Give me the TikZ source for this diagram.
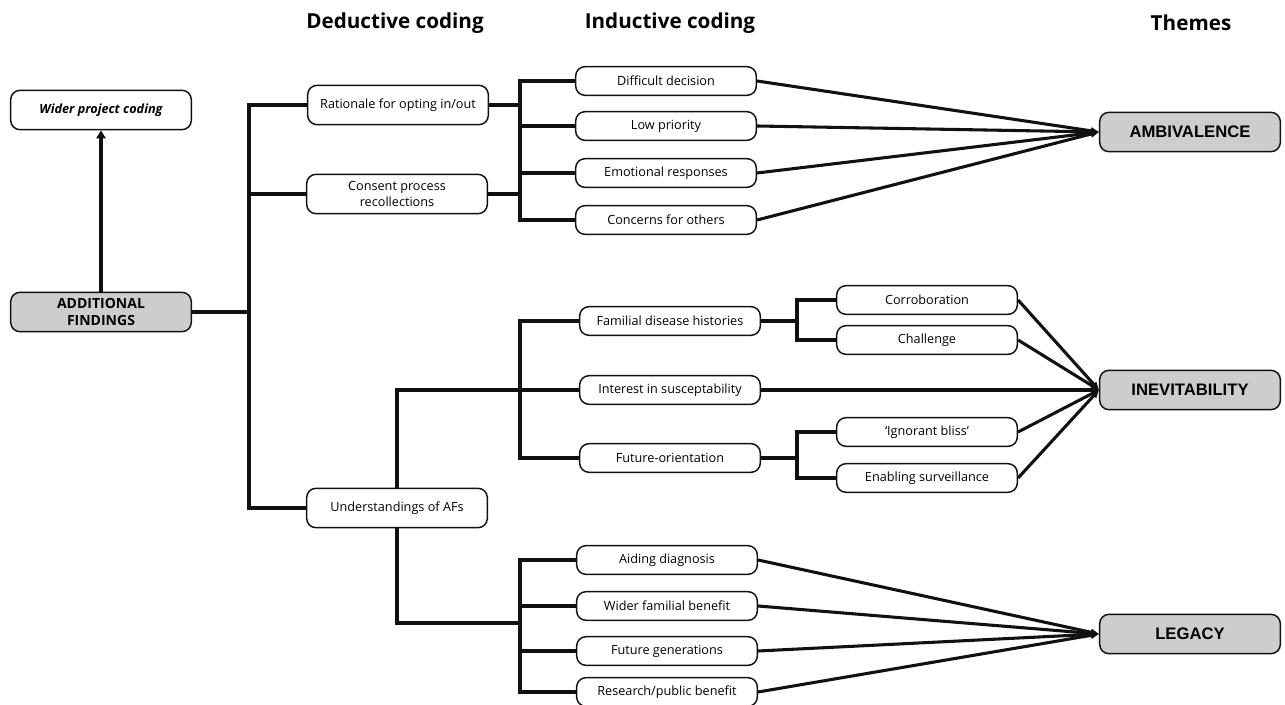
\documentclass[tikz,border=0pt]{standalone}
\usepackage{fontspec}
\setmainfont{Open Sans}
\newfontfamily\themefont{Liberation Sans}
\usepackage{tikz}
\usetikzlibrary{arrows.meta,positioning}
\definecolor{afgrey}{HTML}{CDCDCD}
\definecolor{afink}{HTML}{111111}
\tikzset{
  codebox/.style={draw=afink,line width=1.1pt,rounded corners=7pt,fill=white,
    minimum width=135.5pt,minimum height=21.5pt,inner sep=0pt,align=center,
    font=\fontsize{9.5}{12.5}\selectfont},
  deductbox/.style={codebox,minimum height=29.5pt},
  themebox/.style={codebox,fill=afgrey,minimum height=29.5pt,
    font=\themefont\bfseries\fontsize{12.5}{14}\selectfont},
  colhead/.style={font=\bfseries\fontsize{15.5}{18}\selectfont},
  link/.style={draw=afink,line width=2.3pt},
  feed/.style={link,-{Triangle[length=6pt,width=5pt]}},
}
\begin{document}
\begin{tikzpicture}[x=0.75pt,y=-0.75pt]
\useasboundingbox (0,0) rectangle (1285,705);
\node[colhead] (hded) at (395,23) {Deductive coding};
\node[colhead] (hind) at (670,23) {Inductive coding};
\node[colhead] (hthm) at (1191,23) {Themes};

\node[deductbox,font=\bfseries\itshape\fontsize{9.5}{12.5}\selectfont] (wpc) at (101,110) {Wider project coding};
\node[deductbox,fill=afgrey,font=\bfseries\fontsize{10.5}{12.5}\selectfont] (af) at (101,312) {ADDITIONAL\\FINDINGS};

\node[deductbox] (rat) at (398,105) {Rationale for opting in/out};
\node[deductbox] (con) at (397,194) {Consent process\\recollections};
\node[deductbox] (und) at (397,508) {Understandings of AFs};

\node[codebox] (dif) at (666,81) {Difficult decision};
\node[codebox] (low) at (666,126) {Low priority};
\node[codebox] (emo) at (666,173) {Emotional responses};
\node[codebox] (cfo) at (666,220) {Concerns for others};

\node[codebox] (fam) at (670,321) {Familial disease histories};
\node[codebox] (int) at (670,390) {Interest in susceptability};
\node[codebox] (fut) at (670,458) {Future-orientation};
\node[codebox] (cor) at (927,300) {Corroboration};
\node[codebox] (cha) at (927,340) {Challenge};
\node[codebox] (ign) at (927,432) {‘Ignorant bliss’};
\node[codebox] (ena) at (927,478) {Enabling surveillance};

\node[codebox] (aid) at (667,560) {Aiding diagnosis};
\node[codebox] (wid) at (667,606) {Wider familial benefit};
\node[codebox] (fgn) at (667,651) {Future generations};
\node[codebox] (res) at (667,692) {Research/public benefit};

\node[themebox] (amb) at (1190,132) {AMBIVALENCE};
\node[themebox] (inv) at (1190,390) {INEVITABILITY};
\node[themebox] (leg) at (1190,634) {LEGACY};

\draw[link,-{Triangle[length=6pt,width=7pt]}] (af.north) -- (wpc.south);

\coordinate (tr) at (249,312);
\draw[link] (af.east) -- (tr);
\draw[link] (rat.west) -| (tr) |- (und.west);
\draw[link] (con.west) -- (con.west -| tr);

\coordinate (jt) at (520,150);
\draw[link] (dif.west) -| (jt) |- (cfo.west);
\draw[link] (low.west) -- (low.west -| jt);
\draw[link] (emo.west) -- (emo.west -| jt);
\draw[link] (rat.east) -- (rat.east -| jt);
\draw[link] (con.east) -- (con.east -| jt);

\coordinate (jm) at (520,390);
\draw[link] (und.north) |- (int.west);
\draw[link] (fam.west) -| (jm) |- (fut.west);

\coordinate (jb) at (520,623);
\draw[link] (und.south) |- (jb);
\draw[link] (aid.west) -| (jb) |- (res.west);
\draw[link] (wid.west) -- (wid.west -| jb);
\draw[link] (fgn.west) -- (fgn.west -| jb);

\coordinate (bf) at (797,321);
\coordinate (bo) at (797,458);
\draw[link] (fam.east) -- (bf);
\draw[link] (cor.west) -| (bf) |- (cha.west);
\draw[link] (fut.east) -- (bo);
\draw[link] (ign.west) -| (bo) |- (ena.west);

\foreach \src in {dif,low,emo,cfo} \draw[feed] (\src.east) -- (amb.west);
\foreach \src in {cor,cha,int,ign,ena} \draw[feed] (\src.east) -- (inv.west);
\foreach \src in {aid,wid,fgn,res} \draw[feed] (\src.east) -- (leg.west);
\end{tikzpicture}
\end{document}
